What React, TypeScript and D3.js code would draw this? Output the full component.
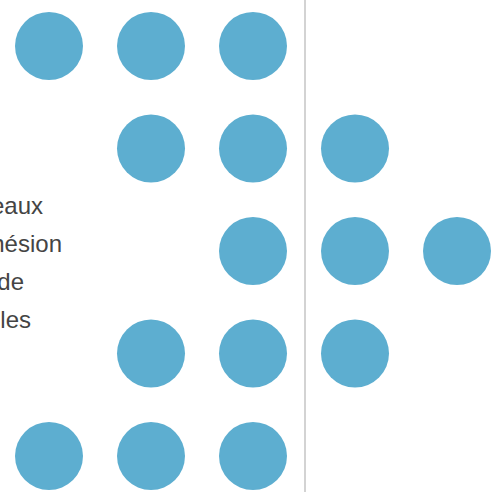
import React from "react";
import * as d3 from "d3";

const rowIndex = [0, 0, 0, 1, 1, 1, 2, 2, 2, 3, 3, 3, 4, 4, 4];
const colIndex = [0, 1, 2, 1, 2, 3, 2, 3, 4, 1, 2, 3, 0, 1, 2];
const labelLines = ["Niveaux", "d'adhésion", "de", "les"];
const labelEnds = [43, 62, 24, 31];

const W = 492;
const H = 492;

export default function App() {
  const x = d3.scaleLinear().domain([0, 4]).range([49, 457]);
  const y = d3.scaleLinear().domain([0, 4]).range([46, 456]);
  const ly = d3.scaleLinear().domain([0, 3]).range([214, 328]);
  return (
    <svg
      width={W}
      height={H}
      style={{ position: "absolute", left: 0, top: 0 }}
    >
      <rect width={W} height={H} fill="#fff" />
      <line x1={305} x2={305} y1={0} y2={H} stroke="#c4c4c4" strokeWidth={1.5} />
      {rowIndex.map((r, i) => (
        <circle key={i} cx={x(colIndex[i])} cy={y(r)} r={34} fill="#5daed0" />
      ))}
      {labelLines.map((t, i) => (
        <text
          key={t}
          x={labelEnds[i]}
          y={ly(i)}
          textAnchor="end"
          fontFamily="'Liberation Sans Narrow', 'Liberation Sans', sans-serif"
          fontSize={24}
          fill="#444"
        >
          {t}
        </text>
      ))}
    </svg>
  );
}
